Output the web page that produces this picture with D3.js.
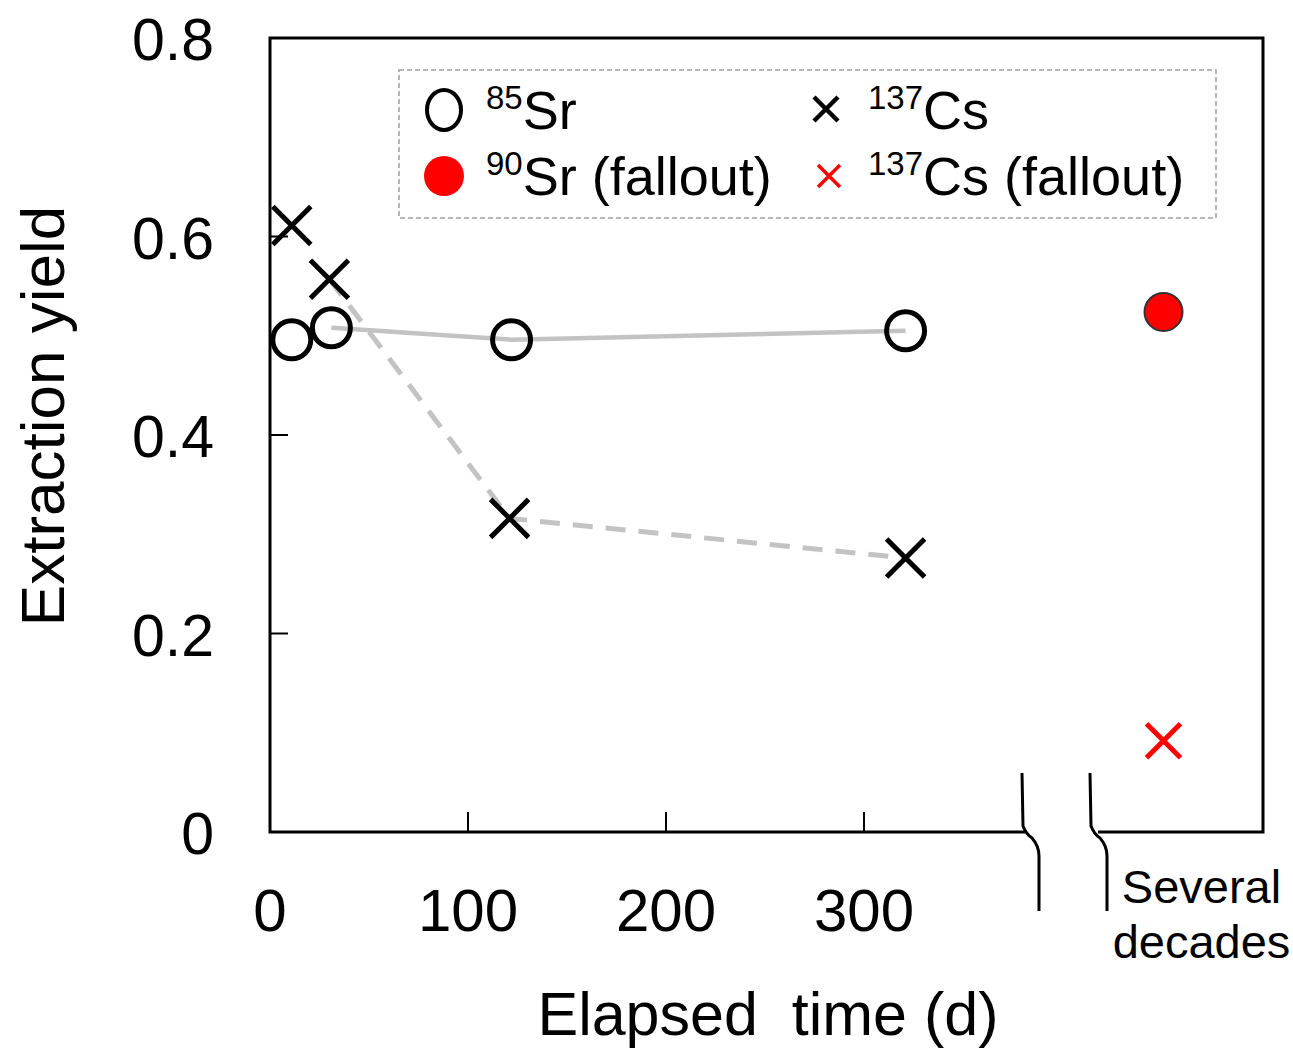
<!DOCTYPE html>
<html>
<head>
<meta charset="utf-8">
<script src="https://cdn.jsdelivr.net/npm/d3@7"></script>
<style>
  body { margin: 0; background: #fff; }
  text { font-family: "Liberation Sans", Arial, sans-serif; fill: #000; }
</style>
</head>
<body>
<div id="chart"></div>
<script>
// measured data (elapsed days, extraction yield)
const sr85Days = [11, 31, 122, 321];
const sr85Yield = [0.496, 0.508, 0.496, 0.505];
const cs137Days = [11, 30, 121, 321];
const cs137Yield = [0.611, 0.557, 0.316, 0.276];

// fallout values (several decades)
const falloutCategory = ['Several decades'];
const sr90Fallout = [0.524];
const cs137Fallout = [0.092];

const xTicks = [0, 100, 200, 300];
const yTicks = [0, 0.2, 0.4, 0.6, 0.8];

const width = 1293;
const height = 1048;
const plot = { left: 270, top: 38, right: 1263, bottom: 832 };
const breakL = 1027, breakR = 1098;

const svg = d3.select('#chart')
  .append('svg')
  .attr('width', width)
  .attr('height', height);

const x = d3.scaleLinear().domain([0, 300]).range([plot.left, 864]);
const y = d3.scaleLinear().domain([0, 0.8]).range([plot.bottom, plot.top]);
const xFall = d3.scalePoint().domain(falloutCategory).range([1064, plot.right]).padding(0.5);

const GRAY = '#c3c3c3';

// connecting lines (from day 31 onward)
const line = d3.line().x((d) => x(d[0])).y((d) => y(d[1]));
const srLine = sr85Days.map((d, i) => [d, sr85Yield[i]]).slice(1);
const csLine = cs137Days.map((d, i) => [d, cs137Yield[i]]).slice(1);

svg.append('path')
  .attr('d', line(srLine))
  .attr('fill', 'none')
  .attr('stroke', GRAY)
  .attr('stroke-width', 4.5);

svg.append('path')
  .attr('d', line(csLine))
  .attr('fill', 'none')
  .attr('stroke', GRAY)
  .attr('stroke-width', 5)
  .attr('stroke-dasharray', '20,13');

// frame
const frame = svg.append('g').attr('fill', 'none').attr('stroke', '#000').attr('stroke-width', 3);
frame.append('path')
  .attr('d', `M${breakL},${plot.bottom}H${plot.left}V${plot.top}H${plot.right}V${plot.bottom}H${breakR}`);

// axis break marks
const brk = (x0) => `M${x0 - 4},773 L${x0 - 3},826 Q${x0},834 ${x0 + 6},838 Q${x0 + 13},846 ${x0 + 13},856 L${x0 + 13},911`;
frame.append('path').attr('d', brk(breakL - 1));
frame.append('path').attr('d', brk(breakR - 4));

// inward ticks
svg.append('g')
  .selectAll('line')
  .data(xTicks.slice(1))
  .enter()
  .append('line')
  .attr('x1', (d) => x(d)).attr('x2', (d) => x(d))
  .attr('y1', plot.bottom).attr('y2', plot.bottom - 20)
  .attr('stroke', '#000').attr('stroke-width', 2);

svg.append('g')
  .selectAll('line')
  .data(yTicks.slice(1, -1))
  .enter()
  .append('line')
  .attr('x1', plot.left).attr('x2', plot.left + 18)
  .attr('y1', (d) => y(d)).attr('y2', (d) => y(d))
  .attr('stroke', '#000').attr('stroke-width', 2);

// tick labels
svg.append('g')
  .selectAll('text')
  .data(xTicks)
  .enter()
  .append('text')
  .attr('x', (d) => x(d))
  .attr('y', 931)
  .attr('text-anchor', 'middle')
  .style('font-size', '60px')
  .text((d) => d);

svg.append('g')
  .selectAll('text')
  .data(yTicks)
  .enter()
  .append('text')
  .attr('x', 214)
  .attr('y', (d) => y(d) + 22)
  .attr('text-anchor', 'end')
  .style('font-size', '59px')
  .text((d) => (d === 0 ? '0' : d3.format('.1f')(d)));

// "Several decades" label
const fx = xFall(falloutCategory[0]);
svg.append('text')
  .attr('x', fx + 38).attr('y', 903)
  .attr('text-anchor', 'middle')
  .style('font-size', '47px')
  .text('Several');
svg.append('text')
  .attr('x', fx + 38).attr('y', 958)
  .attr('text-anchor', 'middle')
  .style('font-size', '47px')
  .text('decades');

// axis titles
svg.append('text')
  .attr('x', 768).attr('y', 1035)
  .attr('text-anchor', 'middle')
  .style('font-size', '61px')
  .style('white-space', 'pre')
  .text('Elapsed  time (d)');

svg.append('text')
  .attr('transform', 'translate(64,416) rotate(-90)')
  .attr('text-anchor', 'middle')
  .style('font-size', '62px')
  .text('Extraction yield');

// markers
const cross = (cx, cy, s) => `M${cx - s},${cy - s}L${cx + s},${cy + s}M${cx - s},${cy + s}L${cx + s},${cy - s}`;

svg.append('g')
  .selectAll('circle')
  .data(sr85Days)
  .enter()
  .append('circle')
  .attr('cx', (d) => x(d))
  .attr('cy', (d, i) => y(sr85Yield[i]))
  .attr('r', 19)
  .attr('fill', 'none')
  .attr('stroke', '#000')
  .attr('stroke-width', 5);

svg.append('g')
  .selectAll('path')
  .data(cs137Days)
  .enter()
  .append('path')
  .attr('d', (d, i) => cross(x(d), y(cs137Yield[i]), 19))
  .attr('stroke', '#000')
  .attr('stroke-width', 5);

svg.append('circle')
  .attr('cx', fx).attr('cy', y(sr90Fallout[0]))
  .attr('r', 19)
  .attr('fill', '#ff0000')
  .attr('stroke', '#333')
  .attr('stroke-width', 2);

svg.append('path')
  .attr('d', cross(fx, y(cs137Fallout[0]), 17))
  .attr('stroke', '#ff0000')
  .attr('stroke-width', 5);

// legend
const lg = svg.append('g');
lg.append('rect')
  .attr('x', 399).attr('y', 70)
  .attr('width', 817).attr('height', 148)
  .attr('fill', 'none')
  .attr('stroke', '#a0a0a0')
  .attr('stroke-width', 1.5)
  .attr('stroke-dasharray', '5,3');

lg.append('ellipse')
  .attr('cx', 444).attr('cy', 110).attr('rx', 17).attr('ry', 20)
  .attr('fill', 'none').attr('stroke', '#000').attr('stroke-width', 4);
lg.append('circle')
  .attr('cx', 444).attr('cy', 176).attr('r', 20)
  .attr('fill', '#ff0000');
lg.append('path').attr('d', cross(826, 109, 12))
  .attr('stroke', '#000').attr('stroke-width', 4.5);
lg.append('path').attr('d', cross(829, 176, 11))
  .attr('stroke', '#ff0000').attr('stroke-width', 3.5);

const legendItems = [
  { x: 486, y: 129, sup: '85', main: 'Sr' },
  { x: 868, y: 129, sup: '137', main: 'Cs' },
  { x: 486, y: 195, sup: '90', main: 'Sr (fallout)' },
  { x: 868, y: 195, sup: '137', main: 'Cs (fallout)' },
];
const lt = lg.selectAll('text.leg')
  .data(legendItems)
  .enter()
  .append('text')
  .attr('class', 'leg')
  .attr('x', (d) => d.x)
  .attr('y', (d) => d.y)
  .style('font-size', '54px');
lt.append('tspan')
  .attr('dy', -20)
  .style('font-size', '33px')
  .text((d) => d.sup);
lt.append('tspan')
  .attr('dy', 20)
  .text((d) => d.main);
</script>
</body>
</html>
